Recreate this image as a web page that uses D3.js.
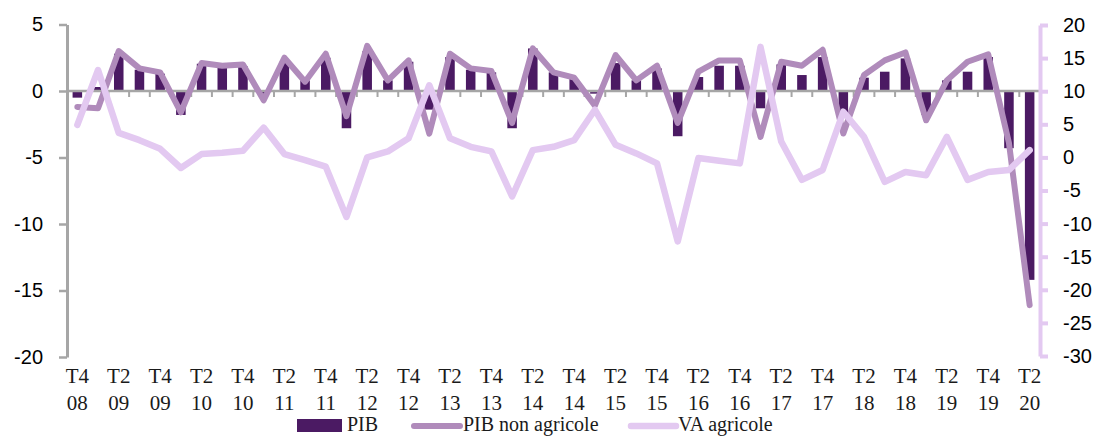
<!DOCTYPE html>
<html>
<head>
<meta charset="utf-8">
<script src="https://cdn.jsdelivr.net/npm/d3@7"></script>
<style>
  body { margin: 0; background: #fff; }
  svg { display: block; }
  .tick text { fill: #000; }
</style>
</head>
<body>
<svg id="chart" width="1098" height="437"></svg>
<script>
// quarters, T4 2008 .. T2 2020
var quarters = ["T4 08","T1 09","T2 09","T3 09","T4 09","T1 10","T2 10","T3 10","T4 10",
  "T1 11","T2 11","T3 11","T4 11","T1 12","T2 12","T3 12","T4 12","T1 13","T2 13","T3 13",
  "T4 13","T1 14","T2 14","T3 14","T4 14","T1 15","T2 15","T3 15","T4 15","T1 16","T2 16",
  "T3 16","T4 16","T1 17","T2 17","T3 17","T4 17","T1 18","T2 18","T3 18","T4 18","T1 19",
  "T2 19","T3 19","T4 19","T1 20","T2 20"];

// PIB (bars, left axis)
var pib = [-0.5, 0.3, 2.8, 1.6, 1.3, -1.8, 2.05, 1.8, 1.85, -0.2, 2.2, 0.8, 2.5, -2.8,
  3.0, 0.8, 2.2, -1.4, 2.55, 1.6, 1.4, -2.8, 3.2, 1.4, 0.9, -0.2, 2.1, 0.8, 1.7, -3.4,
  1.05, 1.9, 1.9, -1.3, 2.0, 1.2, 2.55, -2.0, 1.0, 1.45, 2.45, -1.8, 0.8, 1.45, 2.55,
  -4.3, -14.2];

// PIB non agricole (line, left axis)
var pibNonAgri = [-1.2, -1.3, 3.0, 1.7, 1.4, -1.6, 2.1, 1.9, 2.0, -0.7, 2.5, 0.7, 2.8,
  -1.9, 3.4, 0.8, 2.3, -3.2, 2.8, 1.7, 1.5, -2.4, 3.2, 1.4, 1.0, -1.1, 2.7, 0.8, 1.9,
  -2.4, 1.45, 2.3, 2.3, -3.45, 2.2, 1.9, 3.1, -3.2, 1.2, 2.3, 2.9, -2.2, 0.8, 2.2, 2.75,
  -3.9, -16.1];

// VA agricole (line, right axis)
var vaAgri = [4.9, 13.2, 3.7, 2.6, 1.3, -1.6, 0.5, 0.7, 1.0, 4.5, 0.5, -0.4, -1.4, -9.0,
  0.0, 0.9, 2.9, 10.9, 2.9, 1.6, 0.9, -5.9, 1.1, 1.6, 2.6, 7.2, 1.9, 0.6, -0.9, -12.7,
  -0.1, -0.5, -0.9, 16.7, 2.4, -3.4, -1.9, 6.9, 3.1, -3.7, -2.2, -2.7, 3.1, -3.4, -2.2,
  -1.9, 1.1];

var leftTicks = [-20, -15, -10, -5, 0, 5];
var rightTicks = [-30, -25, -20, -15, -10, -5, 0, 5, 10, 15, 20];

var colBar = "#4b1a63", colNonAgri = "#b08bbb", colVa = "#e3c9f1", colAxis = "#a6a6a6";
var serif = "'Liberation Serif', 'DejaVu Serif', serif";
var sans = "'Liberation Sans', Arial, sans-serif";
var fmt = function (d) { return String(d); }; // plain hyphen, like the original

var svg = d3.select("#chart");
var left = 67, right = 1040;

var x = d3.scaleBand().domain(d3.range(quarters.length)).range([left, right]).padding(0);
var yL = d3.scaleLinear().domain([-20, 5]).range([357, 24.5]);
var yR = d3.scaleLinear().domain([-30, 20]).range([356, 25]);
var cx = function (i) { return x(i) + x.bandwidth() / 2; };
var barW = x.bandwidth() * 0.46;

// bars
svg.append("g").selectAll("rect")
  .data(pib)
  .join("rect")
  .attr("x", function (d, i) { return cx(i) - barW / 2; })
  .attr("width", barW)
  .attr("y", function (d) { return yL(Math.max(0, d)); })
  .attr("height", function (d) { return Math.abs(yL(d) - yL(0)); })
  .attr("fill", colBar);

// zero line with category ticks
var zero = svg.append("g").attr("transform", "translate(0," + yL(0) + ")");
zero.append("line").attr("x1", left).attr("x2", right)
  .attr("stroke", colAxis).attr("stroke-width", 2.5);
zero.selectAll("line.q")
  .data(d3.range(1, quarters.length))
  .join("line").attr("class", "q")
  .attr("x1", function (i) { return x(i); })
  .attr("x2", function (i) { return x(i); })
  .attr("y1", 0).attr("y2", 6)
  .attr("stroke", colAxis).attr("stroke-width", 2);

// left axis
var gL = svg.append("g").attr("transform", "translate(" + left + ",0)")
  .call(d3.axisLeft(yL).tickValues(leftTicks).tickFormat(fmt)
    .tickSize(8).tickPadding(16).tickSizeOuter(0));
gL.select(".domain").attr("stroke", colAxis).attr("stroke-width", 3);
gL.selectAll(".tick line").attr("stroke", colAxis).attr("stroke-width", 2.5);
gL.selectAll(".tick text").style("font-family", sans).style("font-size", "20px");

// right axis
var gR = svg.append("g").attr("transform", "translate(" + right + ",0)")
  .call(d3.axisRight(yR).tickValues(rightTicks).tickFormat(fmt)
    .tickSize(8).tickPadding(15).tickSizeOuter(0));
gR.select(".domain").attr("stroke", colVa).attr("stroke-width", 4);
gR.selectAll(".tick line").attr("stroke", colVa).attr("stroke-width", 4);
gR.selectAll(".tick text").style("font-family", sans).style("font-size", "20px");

// lines
var lineL = d3.line().x(function (d, i) { return cx(i); }).y(function (d) { return yL(d); });
var lineR = d3.line().x(function (d, i) { return cx(i); }).y(function (d) { return yR(d); });

svg.append("path").datum(pibNonAgri)
  .attr("d", lineL).attr("fill", "none")
  .attr("stroke", colNonAgri).attr("stroke-width", 6)
  .attr("stroke-linejoin", "round").attr("stroke-linecap", "round");

svg.append("path").datum(vaAgri)
  .attr("d", lineR).attr("fill", "none")
  .attr("stroke", colVa).attr("stroke-width", 6.5)
  .attr("stroke-linejoin", "round").attr("stroke-linecap", "round");

// category labels, every second quarter
var xl = svg.append("g").style("font-family", serif).style("font-size", "21px")
  .attr("fill", "#1a1a1a").attr("text-anchor", "middle");
xl.selectAll("text")
  .data(d3.range(0, quarters.length, 2))
  .join("text")
  .attr("x", function (i) { return cx(i); })
  .each(function (i) {
    var parts = quarters[i].split(" ");
    d3.select(this).append("tspan").attr("x", cx(i)).attr("y", 383).text(parts[0]);
    d3.select(this).append("tspan").attr("x", cx(i)).attr("y", 410).text(parts[1]);
  });

// legend
var lg = svg.append("g").style("font-family", serif).style("font-size", "20px").attr("fill", "#1a1a1a");
lg.append("rect").attr("x", 297).attr("y", 419).attr("width", 45).attr("height", 13).attr("fill", colBar);
lg.append("text").attr("x", 347).attr("y", 431).text("PIB");
lg.append("line").attr("x1", 414).attr("x2", 460).attr("y1", 426).attr("y2", 426)
  .attr("stroke", colNonAgri).attr("stroke-width", 6).attr("stroke-linecap", "round");
lg.append("text").attr("x", 463).attr("y", 431).text("PIB non agricole");
lg.append("line").attr("x1", 631).attr("x2", 676).attr("y1", 426).attr("y2", 426)
  .attr("stroke", colVa).attr("stroke-width", 6.5).attr("stroke-linecap", "round");
lg.append("text").attr("x", 678).attr("y", 431).text("VA agricole");
</script>
</body>
</html>
